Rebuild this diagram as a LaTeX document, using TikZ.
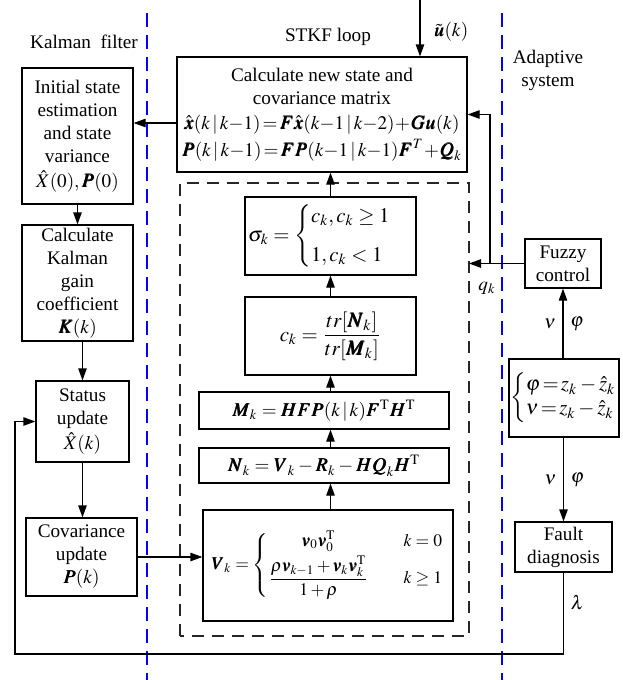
\documentclass[tikz,border=0pt]{standalone}
\usepackage{amsmath}
\usepackage{mathptmx}
\usepackage{bm}
\usepackage{fontspec}
\setmainfont{Liberation Serif}
\usetikzlibrary{arrows.meta}

\begin{document}
\begin{tikzpicture}[
x=0.5pt, y=-0.5pt, % 1 đơn vị = 1 pixel của hình gốc
font=\fontsize{9.6}{11.5}\selectfont,
box/.style 2 args={draw, line width=0.6pt, align=center, inner sep=1pt, minimum width=#1, minimum height=#2},
arr/.style={line width=0.6pt, -{Triangle[length=6pt, width=4.2pt]}},
divider/.style={blue, line width=1pt, dash pattern=on 7pt off 4pt},
loopbox/.style={draw=black!85, line width=0.8pt, dash pattern=on 6pt off 4pt}
]
\useasboundingbox (0,0) rectangle (622,680);

% --- Đường phân vùng ---
\draw[divider] (147,13) -- (147,680);
\draw[divider] (502,13) -- (502,680);

\node (kftitle) at (84,42) {Kalman\ \ filter};
\node (looptitle) at (328,37) {STKF loop};
\node[align=center] (adtitle) at (548,70) {Adaptive\\system};

% --- Khối Kalman filter ---
\node[box={55.5pt}{68pt}] (init) at (77.5,136) {Initial state\\estimation\\and state\\variance\\[1pt]$\hat{X}(0),\bm{P}(0)$};
\node[box={55.5pt}{58pt}] (kalman) at (77.5,283) {Calculate\\Kalman\\gain\\coefficient\\$\bm{K}(k)$};
\node[box={46.5pt}{40.5pt}] (status) at (82.5,421.5) {Status\\update\\[1pt]$\hat{X}(k)$};
\node[box={55.5pt}{39pt}] (cov) at (81.5,557) {Covariance\\update\\$\bm{P}(k)$};

% --- Khối STKF loop ---
\node[box={145pt}{57.5pt}] (calc) at (322,114.5) {Calculate new state and\\covariance matrix\\[1pt]
$\hat{\bm{x}}(k\,|\,k{-}1)\!=\!\bm{F}\hat{\bm{x}}(k{-}1\,|\,k{-}2)\!+\!\bm{G}\bm{u}(k)$\\[2pt]
$\bm{P}(k\,|\,k{-}1)\!=\!\bm{F}\bm{P}(k{-}1\,|\,k{-}1)\bm{F}^{T}\!+\!\bm{Q}_k$};

\coordinate (loopSW) at (180,636);
\coordinate (loopNE) at (469,183);
\draw[loopbox] (loopSW) rectangle (loopNE);

\node[box={85.5pt}{39pt}] (sigma) at (330.5,236) {\fontsize{10.4}{12}\selectfont
$\sigma_k=\begin{cases}c_k, c_k\ge 1\\[5pt] 1, c_k<1\end{cases}$};
\node[box={85.5pt}{39pt}] (ck) at (330.5,336) {\fontsize{10.4}{12}\selectfont
$c_k=\dfrac{tr[\bm{N}_k]}{tr[\bm{M}_k]}$};
\node[box={125pt}{18.5pt}] (Mk) at (324,410.5) {$\bm{M}_k=\bm{HFP}(k\,|\,k)\bm{F}^{\mathrm{T}}\bm{H}^{\mathrm{T}}$};
\node[box={125pt}{17.5pt}] (Nk) at (324,465.5) {$\bm{N}_k=\bm{V}_k-\bm{R}_k-\bm{HQ}_k\bm{H}^{\mathrm{T}}$};
\node[box={125pt}{55.5pt}] (Vk) at (328,565.5) {\fontsize{8.8}{10}\selectfont
$\bm{V}_k=\left\{\begin{array}{@{}c@{\qquad}c@{}}
\bm{v}_0\bm{v}_0^{\mathrm{T}} & k=0\\[2pt]
\dfrac{\rho\bm{v}_{k-1}+\bm{v}_k\bm{v}_k^{\mathrm{T}}}{1+\rho} & k\ge 1
\end{array}\right.$};

% --- Khối Adaptive system ---
\node[box={38pt}{24.5pt}] (fuzzy) at (563,263.5) {Fuzzy\\control};
\node[box={55pt}{39pt}, inner sep=0.5pt] (phinu) at (564,398) {\fontsize{10.4}{12}\selectfont
$\left\{\begin{array}{@{}l@{}}\varphi\!=\!z_k-\hat{z}_k\\ \nu\!=\!z_k-\hat{z}_k\end{array}\right.$};
\node[box={48.5pt}{25pt}] (fault) at (563.5,547) {Fault\\diagnosis};

% --- Mũi tên ---
\coordinate (uin) at (420,0);
\draw[arr] (uin) -- (uin |- calc.north);
\node[right] (ulabel) at (427,32) {$\tilde{\bm{u}}(k)$};

\draw[arr] (calc.west |- 0,123) -- (init.east |- 0,123);
\draw[arr] (init) -- (kalman);
\draw[arr] (kalman.south -| status) -- (status);
\draw[arr] (status) -- (status |- cov.north);
\draw[arr] (cov.east) -- (cov.east -| Vk.west);

\draw[arr] (Vk.north -| ck) -- (Nk.south -| ck);
\draw[arr] (Nk.north -| ck) -- (Mk.south -| ck);
\draw[arr] (Mk.north -| ck) -- (ck.south);
\draw[arr] (ck) -- (sigma);
\draw[arr] (sigma) -- (sigma |- calc.south);

% Đầu ra của Fuzzy control
\coordinate (qtap) at (490,262);
\draw[arr] (fuzzy.west) -- (fuzzy.west -| loopNE);
\draw[arr] (fuzzy.west -| qtap) |- (calc.east);
\node (qlabel) at (487,288) {$q_k$};

\draw[arr] (phinu.north -| fuzzy) -- node[left]{$\nu$} node[right]{$\varphi$} (fuzzy.south);
\draw[arr] (phinu.south -| fault) -- node[left]{$\nu$} node[right]{$\varphi$} (fault.north);

% Vòng phản hồi về Status update
\coordinate (fb) at (15,654);
\draw[arr] (fault.south) -- node[right, pos=0.37]{$\lambda$} (fault.south |- fb) -- (fb) |- (status.west);

\end{tikzpicture}
\end{document}
